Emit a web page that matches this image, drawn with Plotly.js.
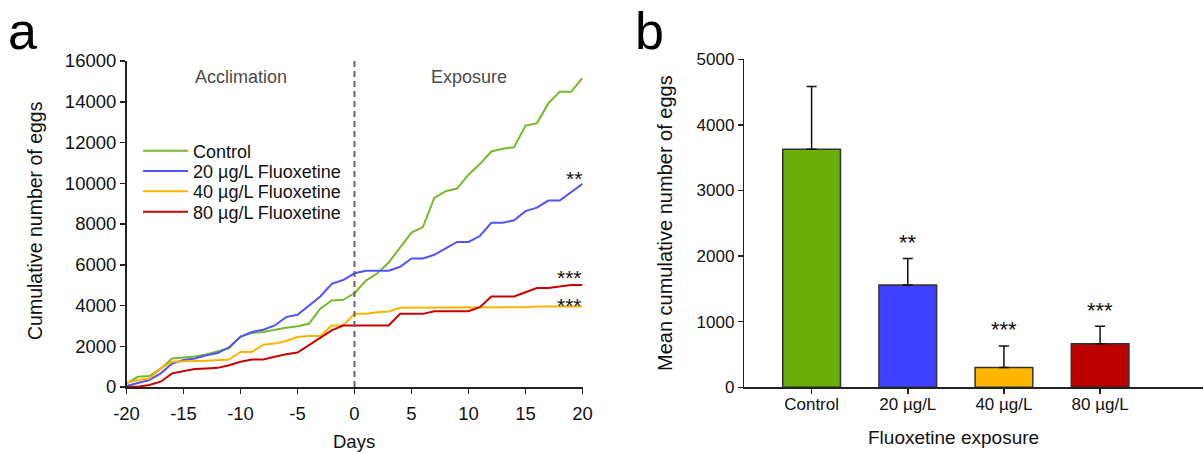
<!DOCTYPE html>
<html>
<head>
<meta charset="utf-8">
<script src="https://cdn.plot.ly/plotly-3.0.1.min.js"></script>
<style>html,body{margin:0;padding:0;background:#fff;}#chart{width:1203px;height:452px;}</style>
</head>
<body>
<div id="chart"></div>
<script>
// ---- Panel a data: cumulative number of eggs per day ----
const days = [-20,-19,-18,-17,-16,-15,-14,-13,-12,-11,-10,-9,-8,-7,-6,-5,-4,-3,-2,-1,0,
              1,2,3,4,5,6,7,8,9,10,11,12,13,14,15,16,17,18,19,20];
const control = [180,500,540,900,1400,1450,1500,1600,1750,1900,2490,2650,2700,2810,2910,2980,3100,3840,4250,4280,4600,
                 5220,5580,6110,6850,7580,7850,9280,9610,9740,10420,10940,11560,11690,11770,12830,12940,13920,14490,14490,15170];
const fluox20 = [50,180,340,670,1150,1320,1400,1560,1670,1950,2460,2700,2810,3020,3430,3545,4000,4440,5060,5250,5580,
                 5710,5710,5710,5900,6310,6310,6490,6800,7120,7120,7410,8060,8060,8180,8630,8800,9150,9150,9560,9970];
const fluox40 = [210,340,420,900,1240,1240,1270,1285,1320,1350,1720,1720,2080,2130,2260,2450,2500,2500,3020,3020,3590,
                 3590,3670,3710,3890,3890,3890,3890,3890,3890,3890,3890,3890,3890,3890,3920,3950,3950,3950,3950,3950];
const fluox80 = [15,15,100,260,670,780,880,910,940,1070,1240,1350,1350,1480,1610,1690,2050,2450,2780,3020,3020,
                 3020,3020,3020,3590,3590,3590,3720,3720,3720,3720,3920,4440,4440,4440,4650,4860,4860,4940,5010,5010];
const seriesNames = ["Control", "20 µg/L Fluoxetine", "40 µg/L Fluoxetine", "80 µg/L Fluoxetine"];
const dayTicks = [-20, -15, -10, -5, 0, 5, 10, 15, 20];
const dayTickLabels = ["-20", "-15", "-10", "-5", "0", "5", "10", "15", "20"];
const exposureStart = 0;
const phaseLabels = ["Acclimation", "Exposure"];
const phaseCenters = [-10, 10];
const lineStars = ["", "**", "***", "***"];

// ---- Panel b data: mean cumulative number of eggs ----
const groups = ["Control", "20 µg/L", "40 µg/L", "80 µg/L"];
const meanEggs = [3630, 1560, 300, 665];
const semEggs = [955, 405, 330, 265];
const barStars = ["", "**", "***", "***"];

// ---- styles ----
const lineColors = ["#78b92a", "#5252ff", "#ffb300", "#c80000"];
const barColors = ["#6aae08", "#4040ff", "#fdb700", "#bb0000"];
const FONT = "Arial, 'Liberation Sans', sans-serif";
const AX = "#222222";
const legendRowsY = [151, 171.3, 191.6, 212];   // legend row centres (px from top)
const lineStarShift = [0, 5, 1, 7];

const seriesData = [control, fluox20, fluox40, fluox80];
const legendIds = ["legend", "legend2", "legend3", "legend4"];
const traces = seriesData.map((ys, i) => ({
  type: "scatter", mode: "lines", x: days, y: ys, name: seriesNames[i],
  line: {color: lineColors[i], width: 2}, xaxis: "x", yaxis: "y", legend: legendIds[i]
}));

traces.push({
  type: "bar", x: groups, y: meanEggs, xaxis: "x2", yaxis: "y2", width: 0.6,
  showlegend: false,
  marker: {color: barColors, line: {color: "#333333", width: 1.5}},
  error_y: {type: "data", symmetric: false, array: semEggs, arrayminus: semEggs.map(() => 0),
            color: "#111111", thickness: 1.5, width: 5}
});

const annotations = [];
// panel letters
annotations.push({text: "a", xref: "paper", yref: "paper", x: 22.5/1203, y: 1,
  xanchor: "center", yanchor: "top", showarrow: false, font: {family: FONT, size: 52, color: "#000"}});
annotations.push({text: "b", xref: "paper", yref: "paper", x: 649/1203, y: 1,
  xanchor: "center", yanchor: "top", showarrow: false, font: {family: FONT, size: 52, color: "#000"}});
// phase labels
phaseLabels.forEach((t, i) => annotations.push({text: t, xref: "x", yref: "paper", x: phaseCenters[i],
  y: (452-77)/452, xanchor: "center", yanchor: "middle", showarrow: false,
  font: {family: FONT, size: 18, color: "#4a4a4a"}}));
// stars on lines
seriesData.forEach((ys, i) => {
  if (!lineStars[i]) return;
  annotations.push({text: lineStars[i], xref: "x", yref: "y", x: days[days.length-1], y: ys[ys.length-1],
    xanchor: "right", yanchor: "middle", yshift: lineStarShift[i], showarrow: false, borderpad: 0,
    font: {family: FONT, size: 21, color: "#111"}});
});
// stars on bars
groups.forEach((g, i) => {
  if (!barStars[i]) return;
  annotations.push({text: barStars[i], xref: "x2", yref: "y2", x: g, y: meanEggs[i] + semEggs[i],
    xanchor: "center", yanchor: "middle", yshift: 16, showarrow: false,
    font: {family: FONT, size: 22, color: "#111"}});
});
// axis titles
annotations.push({text: "Cumulative number of eggs", xref: "paper", yref: "paper", x: 35/1203, y: (452-221)/452,
  textangle: -90, xanchor: "center", yanchor: "middle", showarrow: false, font: {family: FONT, size: 19.5, color: "#111"}});
annotations.push({text: "Days", xref: "paper", yref: "paper", x: 354/1203, y: (452-441)/452,
  xanchor: "center", yanchor: "middle", showarrow: false, font: {family: FONT, size: 18.5, color: "#111"}});
annotations.push({text: "Mean cumulative number of eggs", xref: "paper", yref: "paper", x: 665/1203, y: (452-223)/452,
  textangle: -90, xanchor: "center", yanchor: "middle", showarrow: false, font: {family: FONT, size: 20, color: "#111"}});
annotations.push({text: "Fluoxetine exposure", xref: "paper", yref: "paper", x: 953/1203, y: (452-437)/452,
  xanchor: "center", yanchor: "middle", showarrow: false, font: {family: FONT, size: 19, color: "#111"}});

const axisCommon = {
  showgrid: false, zeroline: false, showline: true, linecolor: AX, linewidth: 1.5,
  ticks: "outside", ticklen: 5, tickwidth: 1.5, tickcolor: AX, fixedrange: true
};

const layout = {
  width: 1203, height: 452,
  margin: {l: 0, r: 0, t: 0, b: 0},
  paper_bgcolor: "#fff", plot_bgcolor: "#fff",
  font: {family: FONT, color: "#111"},
  showlegend: true,
  xaxis: Object.assign({}, axisCommon, {domain: [126.5/1203, 582.5/1203], range: [-20, 20],
    tickmode: "array", tickvals: dayTicks, ticktext: dayTickLabels, ticklabelstandoff: 4,
    anchor: "y", tickfont: {family: FONT, size: 18.5, color: "#111"}}),
  yaxis: Object.assign({}, axisCommon, {domain: [65/452, 391/452], range: [0, 16000], dtick: 2000,
    tickformat: "d", anchor: "x", tickfont: {family: FONT, size: 18.5, color: "#111"}}),
  xaxis2: Object.assign({}, axisCommon, {domain: [744.3/1203, 1], type: "category", range: [-0.70, 4.07],
    anchor: "y2", ticklabelstandoff: -4, tickfont: {family: FONT, size: 17, color: "#111"}}),
  yaxis2: Object.assign({}, axisCommon, {domain: [64.7/452, 392.7/452], range: [0, 5000], dtick: 1000,
    tickformat: "d", anchor: "x2", tickfont: {family: FONT, size: 17, color: "#111"}}),
  shapes: [{type: "line", xref: "x", yref: "y domain", x0: exposureStart, x1: exposureStart, y0: 0, y1: 1,
    line: {color: "#666666", width: 2, dash: "6px,4px"}}],
  annotations: annotations
};
legendIds.forEach((id, i) => {
  layout[id] = {x: 138/1203, y: (452 - legendRowsY[i]) / 452, xanchor: "left", yanchor: "middle",
    bgcolor: "rgba(0,0,0,0)", itemwidth: 45, font: {family: FONT, size: 18, color: "#111"}};
});

Plotly.newPlot("chart", traces, layout, {displayModeBar: false, staticPlot: true});
</script>
</body>
</html>
